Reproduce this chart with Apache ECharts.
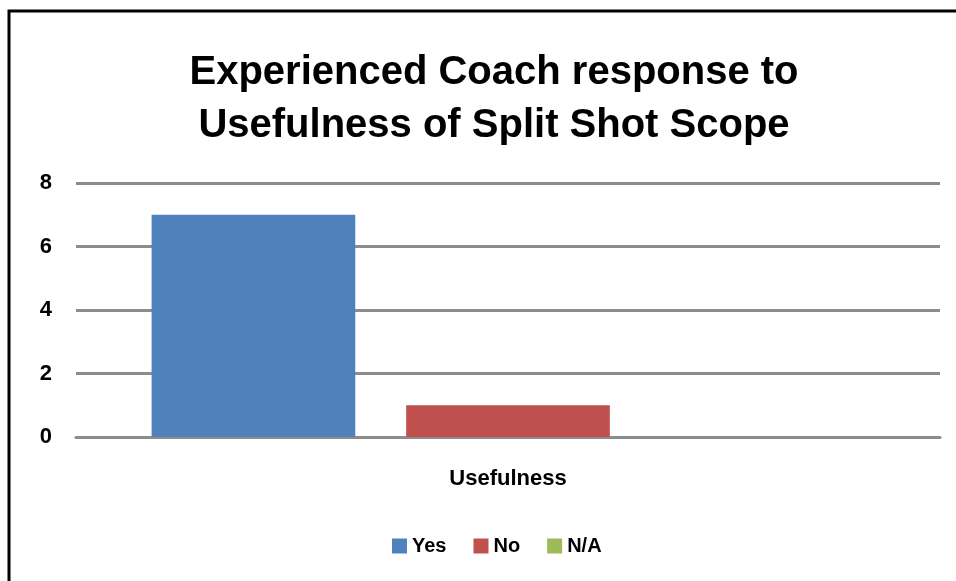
<!DOCTYPE html>
<html>
<head>
<meta charset="utf-8">
<script src="https://cdn.jsdelivr.net/npm/echarts@6/dist/echarts.min.js"></script>
<style>
  html, body { margin: 0; padding: 0; background: #fff; }
  #main { width: 956px; height: 581px; }
</style>
</head>
<body>
<div id="main"></div>
<script>
    // chart data
    var categories = ['Usefulness'];
    var seriesNames = ['Yes', 'No', 'N/A'];
    var yesValues = [7];
    var noValues = [1];
    var naValues = [0];
    var yTicks = [0, 2, 4, 6, 8];

    var colors = ['#4F81BD', '#C0504D', '#9BBB59'];
    var fontFam = '"Liberation Sans", Arial, sans-serif';

    var myChart = echarts.init(document.getElementById('main'));

    var option = {
        animation: false,
        color: colors,
        title: {
            text: 'Experienced Coach response to\nUsefulness of Split Shot Scope',
            left: 489,
            textAlign: 'center',
            top: 41,
            textStyle: {
                fontFamily: fontFam,
                fontWeight: 'bold',
                fontSize: 40,
                lineHeight: 53,
                color: '#000'
            }
        },
        graphic: [{
            type: 'rect',
            shape: { x: 9, y: 11, width: 1000, height: 1000 },
            style: { fill: 'none', stroke: '#000', lineWidth: 3 },
            silent: true
        }],
        legend: {
            data: seriesNames,
            bottom: 20,
            left: 387,
            itemWidth: 15,
            itemHeight: 15,
            itemGap: 27,
            icon: 'rect',
            textStyle: {
                fontFamily: fontFam,
                fontWeight: 'bold',
                fontSize: 20,
                color: '#000'
            }
        },
        grid: {
            left: 76,
            right: 16,
            top: 183,
            bottom: 144
        },
        xAxis: {
            type: 'category',
            data: categories,
            axisLine: { show: true, lineStyle: { color: '#8c8c8c', width: 3 } },
            axisTick: { show: false },
            axisLabel: {
                margin: 31,
                fontFamily: fontFam,
                fontWeight: 'bold',
                fontSize: 22,
                color: '#000'
            }
        },
        yAxis: {
            type: 'value',
            min: yTicks[0],
            max: yTicks[yTicks.length - 1],
            interval: 2,
            axisLine: { show: false },
            axisTick: { show: false },
            splitLine: { lineStyle: { color: '#8c8c8c', width: 3 } },
            axisLabel: {
                margin: 24,
                fontFamily: fontFam,
                fontWeight: 'bold',
                fontSize: 22,
                color: '#000'
            }
        },
        series: [{
            name: seriesNames[0],
            type: 'bar',
            data: yesValues,
            barCategoryGap: '17.5%',
            barGap: '25%'
        }, {
            name: seriesNames[1],
            type: 'bar',
            data: noValues
        }, {
            name: seriesNames[2],
            type: 'bar',
            data: naValues
        }]
    };

    myChart.setOption(option);
</script>
</body>
</html>
